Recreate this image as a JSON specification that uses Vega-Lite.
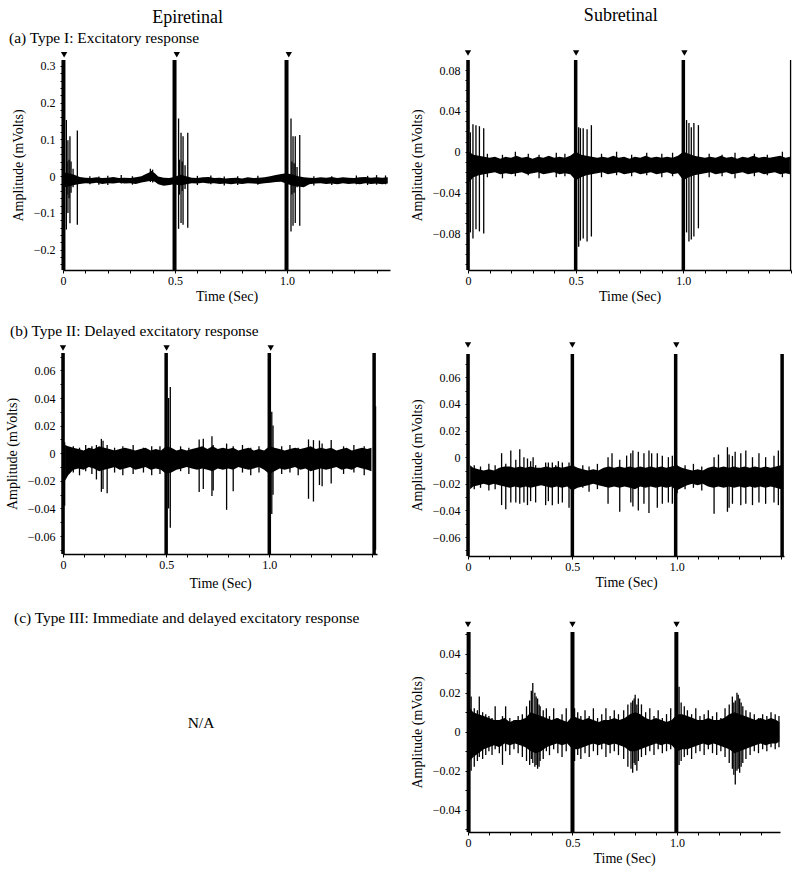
{
"$schema": "https://vega.github.io/schema/vega-lite/v6.json",
"padding": {"left": 5, "top": 6, "right": 4, "bottom": 4},
"config": {
 "font": "Liberation Serif",
 "view": {"stroke": null},
 "title": {"font": "Liberation Serif", "fontWeight": "normal", "color": "black"},
 "style": {"guide-label": {"font": "Liberation Serif", "fontSize": 12, "fontWeight": "normal", "fill": "black"}, "guide-title": {"font": "Liberation Serif", "fontSize": 14, "fontWeight": "normal", "fill": "black"}},
 "axis": {"labelFont": "Liberation Serif", "titleFont": "Liberation Serif", "labelFontSize": 12, "titleFontSize": 14, "titleFontWeight": "normal", "labelFontWeight": "normal", "labelColor": "black", "titleColor": "black", "domainColor": "black", "tickColor": "black", "domainWidth": 1.5, "tickSize": 3, "grid": false, "labelOverlap": false, "labelFlush": false}
},
"datasets": {
 "A1": [
  {"k":"b","x":0.005,"lo":-0.03,"hi":0.01},{"k":"b","x":0.025,"lo":-0.028,"hi":0.008},{"k":"b","x":0.05,"lo":-0.024,"hi":0.004},{"k":"b","x":0.075,"lo":-0.021,"hi":-0.002},{"k":"b","x":0.1,"lo":-0.019,"hi":-0.004},{"k":"b","x":0.125,"lo":-0.02,"hi":-0.005},{"k":"b","x":0.15,"lo":-0.018,"hi":-0.003},{"k":"b","x":0.175,"lo":-0.021,"hi":-0.005},{"k":"b","x":0.2,"lo":-0.019,"hi":-0.004},{"k":"b","x":0.225,"lo":-0.02,"hi":-0.002},{"k":"b","x":0.25,"lo":-0.018,"hi":-0.005},{"k":"b","x":0.275,"lo":-0.02,"hi":-0.004},{"k":"b","x":0.3,"lo":-0.019,"hi":-0.005},{"k":"b","x":0.325,"lo":-0.021,"hi":-0.003},{"k":"b","x":0.35,"lo":-0.017,"hi":0.0},{"k":"b","x":0.37,"lo":-0.015,"hi":0.006},{"k":"b","x":0.385,"lo":-0.013,"hi":0.01},{"k":"b","x":0.395,"lo":-0.013,"hi":0.015},{"k":"b","x":0.41,"lo":-0.015,"hi":0.008},{"k":"b","x":0.425,"lo":-0.022,"hi":-0.001},{"k":"b","x":0.45,"lo":-0.026,"hi":-0.004},{"k":"b","x":0.475,"lo":-0.024,"hi":-0.005},{"k":"b","x":0.495,"lo":-0.022,"hi":-0.002},{"k":"b","x":0.525,"lo":-0.025,"hi":0.004},{"k":"b","x":0.55,"lo":-0.022,"hi":0.0},{"k":"b","x":0.575,"lo":-0.019,"hi":-0.004},{"k":"b","x":0.6,"lo":-0.02,"hi":-0.005},{"k":"b","x":0.625,"lo":-0.018,"hi":-0.003},{"k":"b","x":0.65,"lo":-0.02,"hi":-0.002},{"k":"b","x":0.675,"lo":-0.019,"hi":-0.005},{"k":"b","x":0.7,"lo":-0.021,"hi":-0.004},{"k":"b","x":0.725,"lo":-0.02,"hi":-0.006},{"k":"b","x":0.75,"lo":-0.022,"hi":-0.005},{"k":"b","x":0.775,"lo":-0.02,"hi":-0.004},{"k":"b","x":0.8,"lo":-0.021,"hi":-0.006},{"k":"b","x":0.825,"lo":-0.019,"hi":-0.003},{"k":"b","x":0.85,"lo":-0.02,"hi":-0.005},{"k":"b","x":0.875,"lo":-0.021,"hi":-0.004},{"k":"b","x":0.9,"lo":-0.019,"hi":-0.003},{"k":"b","x":0.925,"lo":-0.018,"hi":0.0},{"k":"b","x":0.95,"lo":-0.016,"hi":0.003},{"k":"b","x":0.975,"lo":-0.015,"hi":0.006},{"k":"b","x":0.995,"lo":-0.02,"hi":0.008},{"k":"b","x":1.025,"lo":-0.026,"hi":0.005},{"k":"b","x":1.05,"lo":-0.028,"hi":0.0},{"k":"b","x":1.075,"lo":-0.03,"hi":-0.003},{"k":"b","x":1.1,"lo":-0.022,"hi":-0.004},{"k":"b","x":1.125,"lo":-0.02,"hi":-0.005},{"k":"b","x":1.15,"lo":-0.019,"hi":-0.003},{"k":"b","x":1.175,"lo":-0.021,"hi":-0.004},{"k":"b","x":1.2,"lo":-0.02,"hi":-0.002},{"k":"b","x":1.225,"lo":-0.022,"hi":-0.005},{"k":"b","x":1.25,"lo":-0.019,"hi":-0.003},{"k":"b","x":1.275,"lo":-0.021,"hi":-0.004},{"k":"b","x":1.3,"lo":-0.02,"hi":-0.005},{"k":"b","x":1.325,"lo":-0.022,"hi":-0.003},{"k":"b","x":1.35,"lo":-0.019,"hi":-0.002},{"k":"b","x":1.375,"lo":-0.021,"hi":-0.004},{"k":"b","x":1.4,"lo":-0.02,"hi":-0.003},{"k":"b","x":1.425,"lo":-0.022,"hi":-0.004},{"k":"b","x":1.45,"lo":-0.02,"hi":-0.003},
  {"k":"s","x":0.015,"lo":-0.145,"hi":0.153},{"k":"s","x":0.022,"lo":-0.1,"hi":0.098},{"k":"s","x":0.031,"lo":-0.128,"hi":0.109},{"k":"s","x":0.064,"lo":-0.132,"hi":0.124},{"k":"s","x":0.018,"lo":-0.05,"hi":0.04},{"k":"s","x":0.027,"lo":-0.06,"hi":0.045},{"k":"s","x":0.036,"lo":-0.045,"hi":0.04},{"k":"s","x":0.045,"lo":-0.03,"hi":0.02},
  {"k":"s","x":0.516,"lo":-0.143,"hi":0.157},{"k":"s","x":0.527,"lo":-0.127,"hi":0.118},{"k":"s","x":0.536,"lo":-0.132,"hi":0.109},{"k":"s","x":0.557,"lo":-0.14,"hi":0.118},{"k":"s","x":0.52,"lo":-0.05,"hi":0.045},{"k":"s","x":0.532,"lo":-0.04,"hi":0.04},{"k":"s","x":0.545,"lo":-0.035,"hi":0.03},
  {"k":"s","x":1.018,"lo":-0.15,"hi":0.157},{"k":"s","x":1.027,"lo":-0.135,"hi":0.109},{"k":"s","x":1.037,"lo":-0.127,"hi":0.109},{"k":"s","x":1.057,"lo":-0.135,"hi":0.112},{"k":"s","x":1.022,"lo":-0.05,"hi":0.04},{"k":"s","x":1.032,"lo":-0.045,"hi":0.035},{"k":"s","x":1.045,"lo":-0.03,"hi":0.025},
  {"k":"s","x":0.12,"lo":-0.022,"hi":0.0},{"k":"s","x":0.2,"lo":-0.024,"hi":0.001},{"k":"s","x":0.26,"lo":-0.02,"hi":0.003},{"k":"s","x":0.31,"lo":-0.023,"hi":0.0},{"k":"s","x":0.66,"lo":-0.022,"hi":0.002},{"k":"s","x":0.72,"lo":-0.025,"hi":-0.001},{"k":"s","x":0.87,"lo":-0.023,"hi":0.001},{"k":"s","x":1.2,"lo":-0.024,"hi":0.0},{"k":"s","x":1.31,"lo":-0.022,"hi":0.002},{"k":"s","x":1.4,"lo":-0.023,"hi":0.003},{"k":"s","x":1.44,"lo":-0.022,"hi":0.002},{"k":"s","x":0.16,"lo":-0.023,"hi":-0.001},{"k":"s","x":0.6,"lo":-0.024,"hi":0.001},{"k":"s","x":0.78,"lo":-0.024,"hi":0.0},{"k":"s","x":1.12,"lo":-0.025,"hi":0.0},{"k":"s","x":1.36,"lo":-0.024,"hi":0.001},{"k":"s","x":0.39,"lo":-0.016,"hi":0.02},{"k":"s","x":0.4,"lo":-0.017,"hi":0.018},
  {"k":"a","x":0.002,"lo":-0.255,"hi":0.316},{"k":"a","x":0.498,"lo":-0.255,"hi":0.316},{"k":"a","x":0.998,"lo":-0.255,"hi":0.316},
  {"k":"t","x":0.005,"lo":0.33},{"k":"t","x":0.508,"lo":0.33},{"k":"t","x":1.008,"lo":0.33}
 ],
 "A2": [
  {"k":"b","x":0.005,"lo":-0.03,"hi":0.0},{"k":"b","x":0.025,"lo":-0.025,"hi":-0.003},{"k":"b","x":0.05,"lo":-0.023,"hi":-0.004},{"k":"b","x":0.075,"lo":-0.022,"hi":-0.005},{"k":"b","x":0.1,"lo":-0.021,"hi":-0.006},{"k":"b","x":0.125,"lo":-0.02,"hi":-0.005},{"k":"b","x":0.15,"lo":-0.022,"hi":-0.007},{"k":"b","x":0.175,"lo":-0.021,"hi":-0.005},{"k":"b","x":0.2,"lo":-0.022,"hi":-0.006},{"k":"b","x":0.225,"lo":-0.021,"hi":-0.004},{"k":"b","x":0.25,"lo":-0.02,"hi":-0.006},{"k":"b","x":0.275,"lo":-0.022,"hi":-0.005},{"k":"b","x":0.3,"lo":-0.021,"hi":-0.007},{"k":"b","x":0.325,"lo":-0.02,"hi":-0.005},{"k":"b","x":0.35,"lo":-0.022,"hi":-0.006},{"k":"b","x":0.375,"lo":-0.021,"hi":-0.004},{"k":"b","x":0.4,"lo":-0.02,"hi":-0.006},{"k":"b","x":0.425,"lo":-0.022,"hi":-0.005},{"k":"b","x":0.45,"lo":-0.021,"hi":-0.006},{"k":"b","x":0.475,"lo":-0.022,"hi":-0.004},{"k":"b","x":0.5,"lo":-0.028,"hi":0.0},{"k":"b","x":0.525,"lo":-0.025,"hi":-0.003},{"k":"b","x":0.55,"lo":-0.023,"hi":-0.004},{"k":"b","x":0.575,"lo":-0.022,"hi":-0.005},{"k":"b","x":0.6,"lo":-0.021,"hi":-0.006},{"k":"b","x":0.625,"lo":-0.02,"hi":-0.005},{"k":"b","x":0.65,"lo":-0.022,"hi":-0.006},{"k":"b","x":0.675,"lo":-0.021,"hi":-0.004},{"k":"b","x":0.7,"lo":-0.02,"hi":-0.006},{"k":"b","x":0.725,"lo":-0.022,"hi":-0.005},{"k":"b","x":0.75,"lo":-0.021,"hi":-0.007},{"k":"b","x":0.775,"lo":-0.02,"hi":-0.005},{"k":"b","x":0.8,"lo":-0.022,"hi":-0.006},{"k":"b","x":0.825,"lo":-0.021,"hi":-0.004},{"k":"b","x":0.85,"lo":-0.02,"hi":-0.006},{"k":"b","x":0.875,"lo":-0.022,"hi":-0.005},{"k":"b","x":0.9,"lo":-0.021,"hi":-0.006},{"k":"b","x":0.925,"lo":-0.02,"hi":-0.005},{"k":"b","x":0.95,"lo":-0.022,"hi":-0.006},{"k":"b","x":0.975,"lo":-0.021,"hi":-0.004},{"k":"b","x":1.0,"lo":-0.028,"hi":0.0},{"k":"b","x":1.025,"lo":-0.025,"hi":-0.002},{"k":"b","x":1.05,"lo":-0.023,"hi":-0.004},{"k":"b","x":1.075,"lo":-0.022,"hi":-0.005},{"k":"b","x":1.1,"lo":-0.021,"hi":-0.006},{"k":"b","x":1.125,"lo":-0.02,"hi":-0.005},{"k":"b","x":1.15,"lo":-0.022,"hi":-0.006},{"k":"b","x":1.175,"lo":-0.021,"hi":-0.004},{"k":"b","x":1.2,"lo":-0.02,"hi":-0.006},{"k":"b","x":1.225,"lo":-0.022,"hi":-0.005},{"k":"b","x":1.25,"lo":-0.021,"hi":-0.007},{"k":"b","x":1.275,"lo":-0.02,"hi":-0.005},{"k":"b","x":1.3,"lo":-0.022,"hi":-0.006},{"k":"b","x":1.325,"lo":-0.021,"hi":-0.004},{"k":"b","x":1.35,"lo":-0.02,"hi":-0.006},{"k":"b","x":1.375,"lo":-0.022,"hi":-0.005},{"k":"b","x":1.4,"lo":-0.021,"hi":-0.006},{"k":"b","x":1.425,"lo":-0.02,"hi":-0.005},{"k":"b","x":1.45,"lo":-0.022,"hi":-0.004},{"k":"b","x":1.475,"lo":-0.021,"hi":-0.006},{"k":"b","x":1.495,"lo":-0.022,"hi":-0.005},
  {"k":"s","x":0.011,"lo":-0.079,"hi":0.019},{"k":"s","x":0.023,"lo":-0.085,"hi":0.027},{"k":"s","x":0.037,"lo":-0.076,"hi":0.026},{"k":"s","x":0.053,"lo":-0.078,"hi":0.025},{"k":"s","x":0.073,"lo":-0.08,"hi":0.023},
  {"k":"s","x":0.514,"lo":-0.093,"hi":0.024},{"k":"s","x":0.522,"lo":-0.087,"hi":0.023},{"k":"s","x":0.535,"lo":-0.085,"hi":0.023},{"k":"s","x":0.553,"lo":-0.088,"hi":0.022},{"k":"s","x":0.573,"lo":-0.083,"hi":0.026},
  {"k":"s","x":1.015,"lo":-0.079,"hi":0.031},{"k":"s","x":1.026,"lo":-0.088,"hi":0.028},{"k":"s","x":1.037,"lo":-0.086,"hi":0.024},{"k":"s","x":1.049,"lo":-0.083,"hi":0.028},{"k":"s","x":1.07,"lo":-0.075,"hi":0.026},
  {"k":"s","x":0.09,"lo":-0.025,"hi":-0.002},{"k":"s","x":0.16,"lo":-0.026,"hi":-0.003},{"k":"s","x":0.22,"lo":-0.024,"hi":0.0},{"k":"s","x":0.28,"lo":-0.023,"hi":-0.002},{"k":"s","x":0.33,"lo":-0.026,"hi":-0.003},{"k":"s","x":0.41,"lo":-0.025,"hi":-0.001},{"k":"s","x":0.45,"lo":-0.024,"hi":-0.002},{"k":"s","x":0.62,"lo":-0.025,"hi":-0.002},{"k":"s","x":0.69,"lo":-0.023,"hi":0.0},{"k":"s","x":0.76,"lo":-0.024,"hi":-0.003},{"k":"s","x":0.83,"lo":-0.023,"hi":-0.001},{"k":"s","x":0.9,"lo":-0.025,"hi":-0.002},{"k":"s","x":0.95,"lo":-0.024,"hi":-0.001},{"k":"s","x":1.12,"lo":-0.025,"hi":-0.002},{"k":"s","x":1.18,"lo":-0.024,"hi":-0.003},{"k":"s","x":1.24,"lo":-0.026,"hi":-0.001},{"k":"s","x":1.33,"lo":-0.024,"hi":-0.002},{"k":"s","x":1.39,"lo":-0.023,"hi":-0.003},{"k":"s","x":1.46,"lo":-0.025,"hi":0.0},
  {"k":"s","x":1.498,"lo":-0.1158,"hi":0.0898},
  {"k":"a","x":0.0,"lo":-0.1158,"hi":0.0898},{"k":"a","x":0.5,"lo":-0.1158,"hi":0.0898},{"k":"a","x":1.0,"lo":-0.1158,"hi":0.0898},
  {"k":"t","x":0.0,"lo":0.0966},{"k":"t","x":0.502,"lo":0.0966},{"k":"t","x":1.005,"lo":0.0966}
 ],
 "B1": [
  {"k":"b","x":0.01,"lo":-0.02,"hi":0.006},{"k":"b","x":0.025,"lo":-0.016,"hi":0.005},{"k":"b","x":0.05,"lo":-0.012,"hi":0.004},{"k":"b","x":0.075,"lo":-0.011,"hi":0.003},{"k":"b","x":0.1,"lo":-0.012,"hi":0.002},{"k":"b","x":0.125,"lo":-0.01,"hi":0.004},{"k":"b","x":0.15,"lo":-0.011,"hi":0.003},{"k":"b","x":0.175,"lo":-0.013,"hi":0.005},{"k":"b","x":0.2,"lo":-0.012,"hi":0.004},{"k":"b","x":0.225,"lo":-0.011,"hi":0.003},{"k":"b","x":0.25,"lo":-0.01,"hi":0.002},{"k":"b","x":0.275,"lo":-0.012,"hi":0.003},{"k":"b","x":0.3,"lo":-0.011,"hi":0.004},{"k":"b","x":0.325,"lo":-0.01,"hi":0.003},{"k":"b","x":0.35,"lo":-0.012,"hi":0.002},{"k":"b","x":0.375,"lo":-0.011,"hi":0.003},{"k":"b","x":0.4,"lo":-0.01,"hi":0.004},{"k":"b","x":0.425,"lo":-0.012,"hi":0.002},{"k":"b","x":0.45,"lo":-0.011,"hi":0.003},{"k":"b","x":0.475,"lo":-0.012,"hi":0.002},{"k":"b","x":0.5,"lo":-0.015,"hi":0.005},{"k":"b","x":0.525,"lo":-0.014,"hi":0.004},{"k":"b","x":0.55,"lo":-0.012,"hi":0.002},{"k":"b","x":0.575,"lo":-0.011,"hi":0.003},{"k":"b","x":0.6,"lo":-0.01,"hi":0.002},{"k":"b","x":0.625,"lo":-0.011,"hi":0.003},{"k":"b","x":0.65,"lo":-0.012,"hi":0.004},{"k":"b","x":0.675,"lo":-0.011,"hi":0.005},{"k":"b","x":0.7,"lo":-0.012,"hi":0.003},{"k":"b","x":0.725,"lo":-0.013,"hi":0.005},{"k":"b","x":0.75,"lo":-0.011,"hi":0.003},{"k":"b","x":0.775,"lo":-0.012,"hi":0.004},{"k":"b","x":0.8,"lo":-0.011,"hi":0.003},{"k":"b","x":0.825,"lo":-0.012,"hi":0.004},{"k":"b","x":0.85,"lo":-0.01,"hi":0.002},{"k":"b","x":0.875,"lo":-0.011,"hi":0.003},{"k":"b","x":0.9,"lo":-0.012,"hi":0.004},{"k":"b","x":0.925,"lo":-0.011,"hi":0.002},{"k":"b","x":0.95,"lo":-0.01,"hi":0.003},{"k":"b","x":0.975,"lo":-0.012,"hi":0.002},{"k":"b","x":1.0,"lo":-0.015,"hi":0.005},{"k":"b","x":1.025,"lo":-0.013,"hi":0.004},{"k":"b","x":1.05,"lo":-0.011,"hi":0.003},{"k":"b","x":1.075,"lo":-0.012,"hi":0.002},{"k":"b","x":1.1,"lo":-0.011,"hi":0.003},{"k":"b","x":1.125,"lo":-0.01,"hi":0.004},{"k":"b","x":1.15,"lo":-0.012,"hi":0.003},{"k":"b","x":1.175,"lo":-0.011,"hi":0.004},{"k":"b","x":1.2,"lo":-0.013,"hi":0.005},{"k":"b","x":1.225,"lo":-0.012,"hi":0.003},{"k":"b","x":1.25,"lo":-0.011,"hi":0.004},{"k":"b","x":1.275,"lo":-0.012,"hi":0.003},{"k":"b","x":1.3,"lo":-0.011,"hi":0.004},{"k":"b","x":1.325,"lo":-0.01,"hi":0.002},{"k":"b","x":1.35,"lo":-0.012,"hi":0.003},{"k":"b","x":1.375,"lo":-0.011,"hi":0.004},{"k":"b","x":1.4,"lo":-0.012,"hi":0.002},{"k":"b","x":1.425,"lo":-0.01,"hi":0.003},{"k":"b","x":1.45,"lo":-0.011,"hi":0.004},{"k":"b","x":1.475,"lo":-0.012,"hi":0.003},{"k":"b","x":1.495,"lo":-0.013,"hi":0.004},
  {"k":"s","x":0.008,"lo":-0.038,"hi":0.008},{"k":"s","x":0.512,"lo":-0.04,"hi":0.04},{"k":"s","x":0.52,"lo":-0.054,"hi":0.048},{"k":"s","x":1.012,"lo":-0.044,"hi":0.03},{"k":"s","x":1.018,"lo":-0.03,"hi":0.02},{"k":"s","x":1.515,"lo":-0.07,"hi":0.034},
  {"k":"s","x":0.162,"lo":-0.019,"hi":0.006},{"k":"s","x":0.186,"lo":-0.028,"hi":0.0104},{"k":"s","x":0.194,"lo":-0.026,"hi":0.009},{"k":"s","x":0.214,"lo":-0.029,"hi":0.006},{"k":"s","x":0.66,"lo":-0.028,"hi":0.01},{"k":"s","x":0.68,"lo":-0.026,"hi":0.0105},{"k":"s","x":0.722,"lo":-0.031,"hi":0.0123},{"k":"s","x":0.728,"lo":-0.027,"hi":0.006},{"k":"s","x":0.793,"lo":-0.041,"hi":0.007},{"k":"s","x":0.825,"lo":-0.0275,"hi":0.005},{"k":"s","x":1.19,"lo":-0.033,"hi":0.01},{"k":"s","x":1.214,"lo":-0.035,"hi":0.0095},{"k":"s","x":1.243,"lo":-0.023,"hi":0.0092},{"k":"s","x":1.256,"lo":-0.024,"hi":0.007},{"k":"s","x":1.3,"lo":-0.022,"hi":0.0095},
  {"k":"s","x":0.05,"lo":-0.014,"hi":0.005},{"k":"s","x":0.08,"lo":-0.016,"hi":0.004},{"k":"s","x":0.11,"lo":-0.013,"hi":0.006},{"k":"s","x":0.14,"lo":-0.015,"hi":0.005},{"k":"s","x":0.25,"lo":-0.014,"hi":0.004},{"k":"s","x":0.29,"lo":-0.016,"hi":0.005},{"k":"s","x":0.34,"lo":-0.015,"hi":0.006},{"k":"s","x":0.39,"lo":-0.014,"hi":0.004},{"k":"s","x":0.43,"lo":-0.016,"hi":0.005},{"k":"s","x":0.47,"lo":-0.015,"hi":0.005},{"k":"s","x":0.57,"lo":-0.013,"hi":0.005},{"k":"s","x":0.61,"lo":-0.015,"hi":0.004},{"k":"s","x":0.87,"lo":-0.014,"hi":0.006},{"k":"s","x":0.91,"lo":-0.016,"hi":0.004},{"k":"s","x":0.95,"lo":-0.014,"hi":0.005},{"k":"s","x":1.06,"lo":-0.015,"hi":0.005},{"k":"s","x":1.1,"lo":-0.014,"hi":0.006},{"k":"s","x":1.14,"lo":-0.016,"hi":0.004},{"k":"s","x":1.36,"lo":-0.015,"hi":0.005},{"k":"s","x":1.41,"lo":-0.014,"hi":0.006},{"k":"s","x":1.46,"lo":-0.016,"hi":0.005},
  {"k":"a","x":0.0,"lo":-0.073,"hi":0.0726},{"k":"a","x":0.5,"lo":-0.073,"hi":0.0726},{"k":"a","x":1.0,"lo":-0.073,"hi":0.0726},{"k":"a","x":1.508,"lo":-0.073,"hi":0.0726},
  {"k":"t","x":0.0,"lo":0.0762},{"k":"t","x":0.502,"lo":0.0762},{"k":"t","x":1.007,"lo":0.0762}
 ],
 "B2": [
  {"k":"b","x":0.01,"lo":-0.024,"hi":-0.006},{"k":"b","x":0.025,"lo":-0.022,"hi":-0.008},{"k":"b","x":0.05,"lo":-0.021,"hi":-0.009},{"k":"b","x":0.075,"lo":-0.02,"hi":-0.01},{"k":"b","x":0.1,"lo":-0.021,"hi":-0.009},{"k":"b","x":0.125,"lo":-0.02,"hi":-0.01},{"k":"b","x":0.15,"lo":-0.021,"hi":-0.008},{"k":"b","x":0.175,"lo":-0.022,"hi":-0.007},{"k":"b","x":0.2,"lo":-0.023,"hi":-0.007},{"k":"b","x":0.225,"lo":-0.022,"hi":-0.008},{"k":"b","x":0.25,"lo":-0.023,"hi":-0.007},{"k":"b","x":0.275,"lo":-0.022,"hi":-0.008},{"k":"b","x":0.3,"lo":-0.023,"hi":-0.007},{"k":"b","x":0.325,"lo":-0.022,"hi":-0.008},{"k":"b","x":0.35,"lo":-0.021,"hi":-0.008},{"k":"b","x":0.375,"lo":-0.022,"hi":-0.007},{"k":"b","x":0.4,"lo":-0.023,"hi":-0.008},{"k":"b","x":0.425,"lo":-0.022,"hi":-0.007},{"k":"b","x":0.45,"lo":-0.023,"hi":-0.008},{"k":"b","x":0.475,"lo":-0.022,"hi":-0.007},{"k":"b","x":0.5,"lo":-0.025,"hi":-0.006},{"k":"b","x":0.525,"lo":-0.023,"hi":-0.008},{"k":"b","x":0.55,"lo":-0.022,"hi":-0.009},{"k":"b","x":0.575,"lo":-0.021,"hi":-0.01},{"k":"b","x":0.6,"lo":-0.02,"hi":-0.009},{"k":"b","x":0.625,"lo":-0.021,"hi":-0.01},{"k":"b","x":0.65,"lo":-0.022,"hi":-0.008},{"k":"b","x":0.675,"lo":-0.023,"hi":-0.007},{"k":"b","x":0.7,"lo":-0.022,"hi":-0.008},{"k":"b","x":0.725,"lo":-0.023,"hi":-0.007},{"k":"b","x":0.75,"lo":-0.022,"hi":-0.008},{"k":"b","x":0.775,"lo":-0.023,"hi":-0.007},{"k":"b","x":0.8,"lo":-0.024,"hi":-0.008},{"k":"b","x":0.825,"lo":-0.022,"hi":-0.007},{"k":"b","x":0.85,"lo":-0.023,"hi":-0.008},{"k":"b","x":0.875,"lo":-0.022,"hi":-0.007},{"k":"b","x":0.9,"lo":-0.023,"hi":-0.008},{"k":"b","x":0.925,"lo":-0.022,"hi":-0.007},{"k":"b","x":0.95,"lo":-0.023,"hi":-0.008},{"k":"b","x":0.975,"lo":-0.022,"hi":-0.007},{"k":"b","x":1.0,"lo":-0.025,"hi":-0.006},{"k":"b","x":1.025,"lo":-0.023,"hi":-0.008},{"k":"b","x":1.05,"lo":-0.021,"hi":-0.009},{"k":"b","x":1.075,"lo":-0.02,"hi":-0.01},{"k":"b","x":1.1,"lo":-0.021,"hi":-0.009},{"k":"b","x":1.125,"lo":-0.02,"hi":-0.01},{"k":"b","x":1.15,"lo":-0.022,"hi":-0.008},{"k":"b","x":1.175,"lo":-0.023,"hi":-0.007},{"k":"b","x":1.2,"lo":-0.022,"hi":-0.008},{"k":"b","x":1.225,"lo":-0.023,"hi":-0.007},{"k":"b","x":1.25,"lo":-0.022,"hi":-0.008},{"k":"b","x":1.275,"lo":-0.023,"hi":-0.007},{"k":"b","x":1.3,"lo":-0.022,"hi":-0.008},{"k":"b","x":1.325,"lo":-0.023,"hi":-0.007},{"k":"b","x":1.35,"lo":-0.022,"hi":-0.008},{"k":"b","x":1.375,"lo":-0.023,"hi":-0.007},{"k":"b","x":1.4,"lo":-0.022,"hi":-0.008},{"k":"b","x":1.425,"lo":-0.023,"hi":-0.007},{"k":"b","x":1.45,"lo":-0.022,"hi":-0.008},{"k":"b","x":1.475,"lo":-0.023,"hi":-0.007},{"k":"b","x":1.5,"lo":-0.024,"hi":-0.006},
  {"k":"s","x":0.161,"lo":-0.036,"hi":0.003},{"k":"s","x":0.181,"lo":-0.039,"hi":-0.005},{"k":"s","x":0.205,"lo":-0.034,"hi":0.005},{"k":"s","x":0.229,"lo":-0.034,"hi":-0.002},{"k":"s","x":0.248,"lo":-0.035,"hi":0.006},{"k":"s","x":0.268,"lo":-0.034,"hi":0.0},{"k":"s","x":0.285,"lo":-0.036,"hi":-0.001},{"k":"s","x":0.3,"lo":-0.033,"hi":-0.003},{"k":"s","x":0.312,"lo":-0.02,"hi":0.0},{"k":"s","x":0.324,"lo":-0.034,"hi":-0.006},{"k":"s","x":0.372,"lo":-0.036,"hi":-0.004},{"k":"s","x":0.385,"lo":-0.033,"hi":-0.004},{"k":"s","x":0.404,"lo":-0.036,"hi":-0.004},{"k":"s","x":0.42,"lo":-0.02,"hi":-0.006},{"k":"s","x":0.433,"lo":-0.035,"hi":-0.003},{"k":"s","x":0.452,"lo":-0.034,"hi":-0.004},{"k":"s","x":0.484,"lo":-0.038,"hi":-0.004},
  {"k":"s","x":0.671,"lo":-0.035,"hi":0.0},{"k":"s","x":0.69,"lo":-0.02,"hi":0.003},{"k":"s","x":0.727,"lo":-0.041,"hi":-0.002},{"k":"s","x":0.76,"lo":-0.02,"hi":0.0012},{"k":"s","x":0.78,"lo":-0.034,"hi":0.003},{"k":"s","x":0.79,"lo":-0.037,"hi":0.005},{"k":"s","x":0.816,"lo":-0.04,"hi":0.004},{"k":"s","x":0.843,"lo":-0.035,"hi":0.003},{"k":"s","x":0.867,"lo":-0.042,"hi":0.005},{"k":"s","x":0.88,"lo":-0.02,"hi":0.003},{"k":"s","x":0.907,"lo":-0.038,"hi":0.003},{"k":"s","x":0.931,"lo":-0.035,"hi":0.001},{"k":"s","x":0.96,"lo":-0.034,"hi":0.0},{"k":"s","x":0.979,"lo":-0.035,"hi":0.001},
  {"k":"s","x":1.179,"lo":-0.0425,"hi":0.0},{"k":"s","x":1.2,"lo":-0.02,"hi":0.002},{"k":"s","x":1.243,"lo":-0.041,"hi":0.0075},{"k":"s","x":1.251,"lo":-0.038,"hi":0.002},{"k":"s","x":1.267,"lo":-0.035,"hi":0.001},{"k":"s","x":1.28,"lo":-0.02,"hi":0.004},{"k":"s","x":1.307,"lo":-0.036,"hi":0.003},{"k":"s","x":1.331,"lo":-0.035,"hi":0.005},{"k":"s","x":1.363,"lo":-0.036,"hi":0.0},{"k":"s","x":1.394,"lo":-0.034,"hi":0.003},{"k":"s","x":1.426,"lo":-0.035,"hi":0.0},{"k":"s","x":1.466,"lo":-0.034,"hi":0.001},{"k":"s","x":1.487,"lo":-0.036,"hi":0.005},
  {"k":"s","x":0.03,"lo":-0.024,"hi":-0.006},{"k":"s","x":0.06,"lo":-0.023,"hi":-0.007},{"k":"s","x":0.1,"lo":-0.025,"hi":-0.005},{"k":"s","x":0.13,"lo":-0.024,"hi":-0.006},{"k":"s","x":0.55,"lo":-0.023,"hi":-0.006},{"k":"s","x":0.58,"lo":-0.026,"hi":-0.007},{"k":"s","x":0.62,"lo":-0.024,"hi":-0.005},{"k":"s","x":1.04,"lo":-0.024,"hi":-0.006},{"k":"s","x":1.08,"lo":-0.023,"hi":-0.005},{"k":"s","x":1.12,"lo":-0.025,"hi":-0.007},{"k":"s","x":0.505,"lo":-0.028,"hi":-0.005},{"k":"s","x":1.002,"lo":-0.027,"hi":-0.006},
  {"k":"a","x":0.0,"lo":-0.0742,"hi":0.0775},{"k":"a","x":0.5,"lo":-0.0742,"hi":0.0775},{"k":"a","x":0.995,"lo":-0.0742,"hi":0.0775},{"k":"a","x":1.505,"lo":-0.0742,"hi":0.0775},
  {"k":"t","x":0.0,"lo":0.0842},{"k":"t","x":0.5,"lo":0.0842},{"k":"t","x":0.998,"lo":0.0842}
 ],
 "C2": [
  {"k":"b","x":0.01,"lo":-0.015,"hi":0.012},{"k":"b","x":0.025,"lo":-0.013,"hi":0.01},{"k":"b","x":0.05,"lo":-0.011,"hi":0.009},{"k":"b","x":0.075,"lo":-0.009,"hi":0.008},{"k":"b","x":0.1,"lo":-0.008,"hi":0.007},{"k":"b","x":0.125,"lo":-0.007,"hi":0.006},{"k":"b","x":0.15,"lo":-0.008,"hi":0.006},{"k":"b","x":0.175,"lo":-0.006,"hi":0.007},{"k":"b","x":0.2,"lo":-0.007,"hi":0.005},{"k":"b","x":0.225,"lo":-0.006,"hi":0.006},{"k":"b","x":0.25,"lo":-0.007,"hi":0.006},{"k":"b","x":0.275,"lo":-0.008,"hi":0.007},{"k":"b","x":0.3,"lo":-0.01,"hi":0.01},{"k":"b","x":0.325,"lo":-0.011,"hi":0.009},{"k":"b","x":0.35,"lo":-0.01,"hi":0.008},{"k":"b","x":0.375,"lo":-0.008,"hi":0.007},{"k":"b","x":0.4,"lo":-0.007,"hi":0.006},{"k":"b","x":0.425,"lo":-0.006,"hi":0.007},{"k":"b","x":0.45,"lo":-0.007,"hi":0.006},{"k":"b","x":0.475,"lo":-0.006,"hi":0.005},{"k":"b","x":0.5,"lo":-0.009,"hi":0.008},{"k":"b","x":0.525,"lo":-0.009,"hi":0.007},{"k":"b","x":0.55,"lo":-0.008,"hi":0.006},{"k":"b","x":0.575,"lo":-0.007,"hi":0.007},{"k":"b","x":0.6,"lo":-0.006,"hi":0.006},{"k":"b","x":0.625,"lo":-0.007,"hi":0.005},{"k":"b","x":0.65,"lo":-0.006,"hi":0.006},{"k":"b","x":0.675,"lo":-0.007,"hi":0.006},{"k":"b","x":0.7,"lo":-0.006,"hi":0.007},{"k":"b","x":0.725,"lo":-0.007,"hi":0.006},{"k":"b","x":0.75,"lo":-0.008,"hi":0.007},{"k":"b","x":0.775,"lo":-0.01,"hi":0.009},{"k":"b","x":0.8,"lo":-0.01,"hi":0.01},{"k":"b","x":0.825,"lo":-0.009,"hi":0.009},{"k":"b","x":0.85,"lo":-0.008,"hi":0.007},{"k":"b","x":0.875,"lo":-0.007,"hi":0.006},{"k":"b","x":0.9,"lo":-0.006,"hi":0.007},{"k":"b","x":0.925,"lo":-0.007,"hi":0.006},{"k":"b","x":0.95,"lo":-0.006,"hi":0.005},{"k":"b","x":0.975,"lo":-0.007,"hi":0.006},{"k":"b","x":1.0,"lo":-0.01,"hi":0.009},{"k":"b","x":1.025,"lo":-0.009,"hi":0.009},{"k":"b","x":1.05,"lo":-0.009,"hi":0.008},{"k":"b","x":1.075,"lo":-0.008,"hi":0.007},{"k":"b","x":1.1,"lo":-0.007,"hi":0.006},{"k":"b","x":1.125,"lo":-0.006,"hi":0.006},{"k":"b","x":1.15,"lo":-0.007,"hi":0.007},{"k":"b","x":1.175,"lo":-0.006,"hi":0.006},{"k":"b","x":1.2,"lo":-0.007,"hi":0.006},{"k":"b","x":1.225,"lo":-0.008,"hi":0.007},{"k":"b","x":1.25,"lo":-0.009,"hi":0.009},{"k":"b","x":1.275,"lo":-0.011,"hi":0.01},{"k":"b","x":1.3,"lo":-0.01,"hi":0.009},{"k":"b","x":1.325,"lo":-0.009,"hi":0.008},{"k":"b","x":1.35,"lo":-0.008,"hi":0.007},{"k":"b","x":1.375,"lo":-0.007,"hi":0.006},{"k":"b","x":1.4,"lo":-0.006,"hi":0.007},{"k":"b","x":1.425,"lo":-0.007,"hi":0.006},{"k":"b","x":1.45,"lo":-0.006,"hi":0.007},{"k":"b","x":1.475,"lo":-0.006,"hi":0.006},{"k":"b","x":1.49,"lo":-0.005,"hi":0.005},
  {"k":"s","x":0.015,"lo":-0.02,"hi":0.018},{"k":"s","x":0.03,"lo":-0.018,"hi":0.012},{"k":"s","x":0.045,"lo":-0.015,"hi":0.011},{"k":"s","x":0.054,"lo":-0.013,"hi":0.018},{"k":"s","x":0.07,"lo":-0.014,"hi":0.01},{"k":"s","x":0.085,"lo":-0.012,"hi":0.009},{"k":"s","x":0.1,"lo":-0.01,"hi":0.008},{"k":"s","x":0.115,"lo":-0.012,"hi":0.007},{"k":"s","x":0.13,"lo":-0.009,"hi":0.013},{"k":"s","x":0.15,"lo":-0.011,"hi":0.006},{"k":"s","x":0.165,"lo":-0.017,"hi":0.008},{"k":"s","x":0.18,"lo":-0.01,"hi":0.013},{"k":"s","x":0.2,"lo":-0.012,"hi":0.007},{"k":"s","x":0.22,"lo":-0.009,"hi":0.006},{"k":"s","x":0.24,"lo":-0.011,"hi":0.008},{"k":"s","x":0.26,"lo":-0.013,"hi":0.009},{"k":"s","x":0.28,"lo":-0.015,"hi":0.013},{"k":"s","x":0.295,"lo":-0.017,"hi":0.016},{"k":"s","x":0.303,"lo":-0.014,"hi":0.021},{"k":"s","x":0.31,"lo":-0.016,"hi":0.025},{"k":"s","x":0.32,"lo":-0.018,"hi":0.02},{"k":"s","x":0.326,"lo":-0.017,"hi":0.018},{"k":"s","x":0.333,"lo":-0.019,"hi":0.017},{"k":"s","x":0.34,"lo":-0.018,"hi":0.014},{"k":"s","x":0.345,"lo":-0.015,"hi":0.013},{"k":"s","x":0.36,"lo":-0.014,"hi":0.011},{"k":"s","x":0.375,"lo":-0.01,"hi":0.012},{"k":"s","x":0.39,"lo":-0.012,"hi":0.008},{"k":"s","x":0.41,"lo":-0.009,"hi":0.012},{"k":"s","x":0.43,"lo":-0.011,"hi":0.007},{"k":"s","x":0.45,"lo":-0.013,"hi":0.009},{"k":"s","x":0.47,"lo":-0.01,"hi":0.012},{"k":"s","x":0.51,"lo":-0.015,"hi":0.012},{"k":"s","x":0.525,"lo":-0.012,"hi":0.01},{"k":"s","x":0.54,"lo":-0.014,"hi":0.008},{"k":"s","x":0.56,"lo":-0.011,"hi":0.011},{"k":"s","x":0.58,"lo":-0.013,"hi":0.008},{"k":"s","x":0.6,"lo":-0.01,"hi":0.012},{"k":"s","x":0.62,"lo":-0.012,"hi":0.007},{"k":"s","x":0.64,"lo":-0.009,"hi":0.009},{"k":"s","x":0.66,"lo":-0.013,"hi":0.012},{"k":"s","x":0.68,"lo":-0.011,"hi":0.008},{"k":"s","x":0.7,"lo":-0.01,"hi":0.011},{"k":"s","x":0.72,"lo":-0.012,"hi":0.009},{"k":"s","x":0.745,"lo":-0.014,"hi":0.011},{"k":"s","x":0.765,"lo":-0.018,"hi":0.014},{"k":"s","x":0.78,"lo":-0.019,"hi":0.015},{"k":"s","x":0.788,"lo":-0.021,"hi":0.016},{"k":"s","x":0.795,"lo":-0.016,"hi":0.017},{"k":"s","x":0.8,"lo":-0.017,"hi":0.019},{"k":"s","x":0.808,"lo":-0.02,"hi":0.014},{"k":"s","x":0.815,"lo":-0.015,"hi":0.017},{"k":"s","x":0.83,"lo":-0.013,"hi":0.014},{"k":"s","x":0.85,"lo":-0.012,"hi":0.01},{"k":"s","x":0.87,"lo":-0.01,"hi":0.012},{"k":"s","x":0.89,"lo":-0.012,"hi":0.008},{"k":"s","x":0.91,"lo":-0.009,"hi":0.011},{"k":"s","x":0.93,"lo":-0.011,"hi":0.007},{"k":"s","x":0.95,"lo":-0.01,"hi":0.009},{"k":"s","x":0.97,"lo":-0.009,"hi":0.012},{"k":"s","x":1.01,"lo":-0.017,"hi":0.023},{"k":"s","x":1.02,"lo":-0.015,"hi":0.015},{"k":"s","x":1.035,"lo":-0.013,"hi":0.013},{"k":"s","x":1.05,"lo":-0.012,"hi":0.011},{"k":"s","x":1.07,"lo":-0.014,"hi":0.009},{"k":"s","x":1.09,"lo":-0.011,"hi":0.012},{"k":"s","x":1.11,"lo":-0.01,"hi":0.008},{"k":"s","x":1.13,"lo":-0.012,"hi":0.009},{"k":"s","x":1.15,"lo":-0.009,"hi":0.011},{"k":"s","x":1.17,"lo":-0.011,"hi":0.008},{"k":"s","x":1.19,"lo":-0.012,"hi":0.01},{"k":"s","x":1.21,"lo":-0.01,"hi":0.007},{"k":"s","x":1.23,"lo":-0.013,"hi":0.012},{"k":"s","x":1.25,"lo":-0.016,"hi":0.014},{"k":"s","x":1.265,"lo":-0.019,"hi":0.018},{"k":"s","x":1.272,"lo":-0.022,"hi":0.015},{"k":"s","x":1.279,"lo":-0.027,"hi":0.016},{"k":"s","x":1.287,"lo":-0.02,"hi":0.02},{"k":"s","x":1.293,"lo":-0.019,"hi":0.019},{"k":"s","x":1.3,"lo":-0.021,"hi":0.017},{"k":"s","x":1.307,"lo":-0.018,"hi":0.015},{"k":"s","x":1.315,"lo":-0.016,"hi":0.013},{"k":"s","x":1.33,"lo":-0.014,"hi":0.011},{"k":"s","x":1.35,"lo":-0.012,"hi":0.01},{"k":"s","x":1.37,"lo":-0.01,"hi":0.009},{"k":"s","x":1.39,"lo":-0.011,"hi":0.007},{"k":"s","x":1.41,"lo":-0.009,"hi":0.009},{"k":"s","x":1.43,"lo":-0.01,"hi":0.008},{"k":"s","x":1.45,"lo":-0.008,"hi":0.01},{"k":"s","x":1.47,"lo":-0.009,"hi":0.009},{"k":"s","x":1.488,"lo":-0.008,"hi":0.008},
  {"k":"a","x":0.003,"lo":-0.0514,"hi":0.0511},{"k":"a","x":0.5,"lo":-0.0514,"hi":0.0511},{"k":"a","x":0.997,"lo":-0.0514,"hi":0.0511},
  {"k":"t","x":0.0,"lo":0.055},{"k":"t","x":0.5,"lo":0.055},{"k":"t","x":0.998,"lo":0.055}
 ]
},
"hconcat": [
 {
  "title": {"text": "Epiretinal", "fontSize": 18, "anchor": "middle", "offset": 4, "dx": -10},
  "spacing": 20,
  "vconcat": [
   {
    "title": {"text": "(a) Type I: Excitatory response", "anchor": "start", "frame": "group", "dx": -54, "fontSize": 15.4, "offset": 6},
    "width": 327, "height": 210,
    "data": {"name": "A1"},
    "encoding": {
     "x": {"field": "x", "type": "quantitative", "scale": {"domain": [0, 1.46], "nice": false, "zero": false},
      "axis": {"title": "Time (Sec)", "labelFont": "Liberation Serif", "titleFont": "Liberation Serif", "labelFontSize": 12, "titleFontSize": 14, "titleFontWeight": "normal", "labelPadding": 2, "titlePadding": 3, "tickSize": 3,
       "values": [0,0.1,0.2,0.3,0.4,0.5,0.6,0.7,0.8,0.9,1.0,1.1,1.2,1.3,1.4],
       "labelExpr": "abs(datum.value*2-round(datum.value*2))<0.001 ? (datum.value==0 ? '0' : format(datum.value,'.1f')) : ''"}},
     "y": {"field": "lo", "type": "quantitative", "scale": {"domain": [-0.255, 0.316], "nice": false, "zero": false},
      "axis": {"title": "Amplitude (mVolts)", "labelFont": "Liberation Serif", "titleFont": "Liberation Serif", "labelFontSize": 12, "titleFontSize": 14, "titleFontWeight": "normal", "labelPadding": 5, "titlePadding": 8, "tickSize": 3,
       "values": [-0.24,-0.22,-0.2,-0.18,-0.16,-0.14,-0.12,-0.1,-0.08,-0.06,-0.04,-0.02,0,0.02,0.04,0.06,0.08,0.1,0.12,0.14,0.16,0.18,0.2,0.22,0.24,0.26,0.28,0.3],
       "labelExpr": "abs(datum.value*10-round(datum.value*10))<0.001 ? (datum.value==0 ? '0' : format(datum.value,'.1f')) : ''"}}
    },
    "layer": [
     {"transform": [{"filter": "datum.k=='b'"}], "mark": {"type": "area", "color": "black"}, "encoding": {"y2": {"field": "hi"}}},
     {"transform": [{"filter": "datum.k=='s'"}], "mark": {"type": "rule", "color": "black", "strokeWidth": 1.3}, "encoding": {"y2": {"field": "hi"}}},
     {"transform": [{"filter": "datum.k=='a'"}], "mark": {"type": "rule", "color": "black", "strokeWidth": 4}, "encoding": {"y2": {"field": "hi"}}},
     {"transform": [{"filter": "datum.k=='t'"}], "mark": {"type": "point", "shape": "triangle-down", "filled": true, "size": 40, "color": "black", "opacity": 1}, "encoding": {}}
    ]
   },
   {
    "title": {"text": "(b) Type II: Delayed excitatory response", "anchor": "start", "frame": "group", "dx": -53, "fontSize": 15.4, "offset": 6},
    "width": 314, "height": 201,
    "data": {"name": "B1"},
    "encoding": {
     "x": {"field": "x", "type": "quantitative", "scale": {"domain": [0, 1.522], "nice": false, "zero": false},
      "axis": {"title": "Time (Sec)", "labelFont": "Liberation Serif", "titleFont": "Liberation Serif", "labelFontSize": 12, "titleFontSize": 14, "titleFontWeight": "normal", "labelPadding": 2, "titlePadding": 6, "tickSize": 3,
       "values": [0,0.1,0.2,0.3,0.4,0.5,0.6,0.7,0.8,0.9,1.0,1.1,1.2,1.3,1.4,1.5],
       "labelExpr": "abs(datum.value*2-round(datum.value*2))<0.001 && datum.value<1.2 ? (datum.value==0 ? '0' : format(datum.value,'.1f')) : ''"}},
     "y": {"field": "lo", "type": "quantitative", "scale": {"domain": [-0.073, 0.0726], "nice": false, "zero": false},
      "axis": {"title": "Amplitude (mVolts)", "labelFont": "Liberation Serif", "titleFont": "Liberation Serif", "labelFontSize": 12, "titleFontSize": 14, "titleFontWeight": "normal", "labelPadding": 5, "titlePadding": 8, "tickSize": 3,
       "values": [-0.07,-0.06,-0.05,-0.04,-0.03,-0.02,-0.01,0,0.01,0.02,0.03,0.04,0.05,0.06,0.07],
       "labelExpr": "abs(datum.value*50-round(datum.value*50))<0.001 ? (datum.value==0 ? '0' : format(datum.value,'.2f')) : ''"}}
    },
    "layer": [
     {"transform": [{"filter": "datum.k=='b'"}], "mark": {"type": "area", "color": "black"}, "encoding": {"y2": {"field": "hi"}}},
     {"transform": [{"filter": "datum.k=='s'"}], "mark": {"type": "rule", "color": "black", "strokeWidth": 1.3}, "encoding": {"y2": {"field": "hi"}}},
     {"transform": [{"filter": "datum.k=='a'"}], "mark": {"type": "rule", "color": "black", "strokeWidth": 3.5}, "encoding": {"y2": {"field": "hi"}}},
     {"transform": [{"filter": "datum.k=='t'"}], "mark": {"type": "point", "shape": "triangle-down", "filled": true, "size": 40, "color": "black", "opacity": 1}, "encoding": {}}
    ]
   },
   {
    "title": {"text": "(c) Type III: Immediate and delayed excitatory response", "anchor": "start", "frame": "group", "dx": -49, "fontSize": 15.4, "offset": 6},
    "width": 276, "height": 182,
    "data": {"values": [{"t": "N/A"}]},
    "mark": {"type": "text", "font": "Liberation Serif", "fontSize": 15.5, "color": "black"},
    "encoding": {"text": {"field": "t", "type": "nominal"}}
   }
  ]
 },
 {
  "title": {"text": "Subretinal", "fontSize": 18, "anchor": "middle", "offset": 4, "dx": 20},
  "spacing": 17,
  "vconcat": [
   {
    "title": {"text": " ", "anchor": "start", "fontSize": 15.4, "offset": 6},
    "width": 323, "height": 210,
    "data": {"name": "A2"},
    "encoding": {
     "x": {"field": "x", "type": "quantitative", "scale": {"domain": [0, 1.5], "nice": false, "zero": false},
      "axis": {"title": "Time (Sec)", "labelFont": "Liberation Serif", "titleFont": "Liberation Serif", "labelFontSize": 12, "titleFontSize": 14, "titleFontWeight": "normal", "labelPadding": 2, "titlePadding": 3, "tickSize": 3,
       "values": [0,0.1,0.2,0.3,0.4,0.5,0.6,0.7,0.8,0.9,1.0,1.1,1.2,1.3,1.4,1.5],
       "labelExpr": "abs(datum.value*2-round(datum.value*2))<0.001 && datum.value<1.2 ? (datum.value==0 ? '0' : format(datum.value,'.1f')) : ''"}},
     "y": {"field": "lo", "type": "quantitative", "scale": {"domain": [-0.1158, 0.0898], "nice": false, "zero": false},
      "axis": {"title": "Amplitude (mVolts)", "labelFont": "Liberation Serif", "titleFont": "Liberation Serif", "labelFontSize": 12, "titleFontSize": 14, "titleFontWeight": "normal", "labelPadding": 5, "titlePadding": 8, "tickSize": 3,
       "values": [-0.11,-0.1,-0.09,-0.08,-0.07,-0.06,-0.05,-0.04,-0.03,-0.02,-0.01,0,0.01,0.02,0.03,0.04,0.05,0.06,0.07,0.08],
       "labelExpr": "abs(datum.value*25-round(datum.value*25))<0.001 ? (datum.value==0 ? '0' : format(datum.value,'.2f')) : ''"}}
    },
    "layer": [
     {"transform": [{"filter": "datum.k=='b'"}], "mark": {"type": "area", "color": "black"}, "encoding": {"y2": {"field": "hi"}}},
     {"transform": [{"filter": "datum.k=='s'"}], "mark": {"type": "rule", "color": "black", "strokeWidth": 1.3}, "encoding": {"y2": {"field": "hi"}}},
     {"transform": [{"filter": "datum.k=='a'"}], "mark": {"type": "rule", "color": "black", "strokeWidth": 3.5}, "encoding": {"y2": {"field": "hi"}}},
     {"transform": [{"filter": "datum.k=='t'"}], "mark": {"type": "point", "shape": "triangle-down", "filled": true, "size": 40, "color": "black", "opacity": 1}, "encoding": {}}
    ]
   },
   {
    "title": {"text": " ", "anchor": "start", "fontSize": 15.4, "offset": 6},
    "width": 316, "height": 202,
    "data": {"name": "B2"},
    "encoding": {
     "x": {"field": "x", "type": "quantitative", "scale": {"domain": [0, 1.514], "nice": false, "zero": false},
      "axis": {"title": "Time (Sec)", "labelFont": "Liberation Serif", "titleFont": "Liberation Serif", "labelFontSize": 12, "titleFontSize": 14, "titleFontWeight": "normal", "labelPadding": 2, "titlePadding": 3, "tickSize": 3,
       "values": [0,0.1,0.2,0.3,0.4,0.5,0.6,0.7,0.8,0.9,1.0,1.1,1.2,1.3,1.4,1.5],
       "labelExpr": "abs(datum.value*2-round(datum.value*2))<0.001 && datum.value<1.2 ? (datum.value==0 ? '0' : format(datum.value,'.1f')) : ''"}},
     "y": {"field": "lo", "type": "quantitative", "scale": {"domain": [-0.0742, 0.0775], "nice": false, "zero": false},
      "axis": {"title": "Amplitude (mVolts)", "labelFont": "Liberation Serif", "titleFont": "Liberation Serif", "labelFontSize": 12, "titleFontSize": 14, "titleFontWeight": "normal", "labelPadding": 5, "titlePadding": 8, "tickSize": 3,
       "values": [-0.07,-0.06,-0.05,-0.04,-0.03,-0.02,-0.01,0,0.01,0.02,0.03,0.04,0.05,0.06,0.07],
       "labelExpr": "abs(datum.value*50-round(datum.value*50))<0.001 ? (datum.value==0 ? '0' : format(datum.value,'.2f')) : ''"}}
    },
    "layer": [
     {"transform": [{"filter": "datum.k=='b'"}], "mark": {"type": "area", "color": "black"}, "encoding": {"y2": {"field": "hi"}}},
     {"transform": [{"filter": "datum.k=='s'"}], "mark": {"type": "rule", "color": "black", "strokeWidth": 1.3}, "encoding": {"y2": {"field": "hi"}}},
     {"transform": [{"filter": "datum.k=='a'"}], "mark": {"type": "rule", "color": "black", "strokeWidth": 3.5}, "encoding": {"y2": {"field": "hi"}}},
     {"transform": [{"filter": "datum.k=='t'"}], "mark": {"type": "point", "shape": "triangle-down", "filled": true, "size": 40, "color": "black", "opacity": 1}, "encoding": {}}
    ]
   },
   {
    "title": {"text": " ", "anchor": "start", "fontSize": 9.4, "offset": 5},
    "width": 312, "height": 200,
    "data": {"name": "C2"},
    "encoding": {
     "x": {"field": "x", "type": "quantitative", "scale": {"domain": [0, 1.493], "nice": false, "zero": false},
      "axis": {"title": "Time (Sec)", "labelFont": "Liberation Serif", "titleFont": "Liberation Serif", "labelFontSize": 12, "titleFontSize": 14, "titleFontWeight": "normal", "labelPadding": 2, "titlePadding": 3, "tickSize": 3,
       "values": [0,0.1,0.2,0.3,0.4,0.5,0.6,0.7,0.8,0.9,1.0,1.1,1.2,1.3,1.4],
       "labelExpr": "abs(datum.value*2-round(datum.value*2))<0.001 && datum.value<1.2 ? (datum.value==0 ? '0' : format(datum.value,'.1f')) : ''"}},
     "y": {"field": "lo", "type": "quantitative", "scale": {"domain": [-0.0514, 0.0511], "nice": false, "zero": false},
      "axis": {"title": "Amplitude (mVolts)", "labelFont": "Liberation Serif", "titleFont": "Liberation Serif", "labelFontSize": 12, "titleFontSize": 14, "titleFontWeight": "normal", "labelPadding": 5, "titlePadding": 8, "tickSize": 3,
       "values": [-0.05,-0.04,-0.03,-0.02,-0.01,0,0.01,0.02,0.03,0.04,0.05],
       "labelExpr": "abs(datum.value*50-round(datum.value*50))<0.001 ? (datum.value==0 ? '0' : format(datum.value,'.2f')) : ''"}}
    },
    "layer": [
     {"transform": [{"filter": "datum.k=='b'"}], "mark": {"type": "area", "color": "black"}, "encoding": {"y2": {"field": "hi"}}},
     {"transform": [{"filter": "datum.k=='s'"}], "mark": {"type": "rule", "color": "black", "strokeWidth": 1.3}, "encoding": {"y2": {"field": "hi"}}},
     {"transform": [{"filter": "datum.k=='a'"}], "mark": {"type": "rule", "color": "black", "strokeWidth": 4}, "encoding": {"y2": {"field": "hi"}}},
     {"transform": [{"filter": "datum.k=='t'"}], "mark": {"type": "point", "shape": "triangle-down", "filled": true, "size": 40, "color": "black", "opacity": 1}, "encoding": {}}
    ]
   }
  ]
 }
],
"spacing": 20
}
